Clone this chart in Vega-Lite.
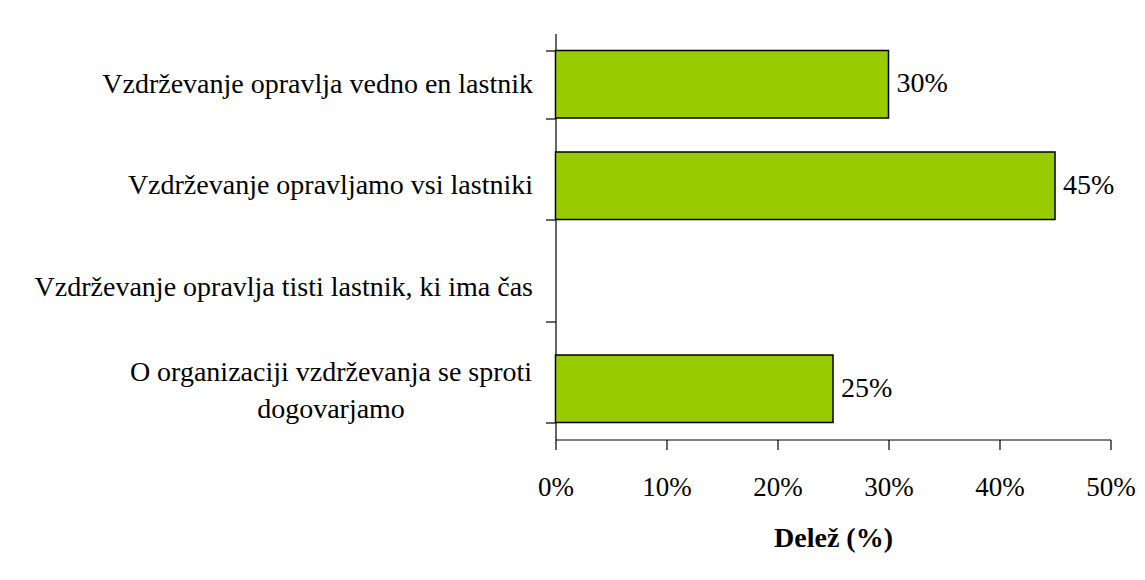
{
  "$schema": "https://vega.github.io/schema/vega-lite/v6.json",
  "width": 555,
  "height": 406,
  "autosize": "none",
  "padding": {"left": 555.5, "top": 33.5, "right": 34.5, "bottom": 140.5},
  "background": "white",
  "config": {
    "view": {"stroke": null},
    "font": "Times New Roman, Liberation Serif, serif",
    "text": {"font": "Times New Roman, Liberation Serif, serif"},
    "axis": {"domainColor": "black", "tickColor": "black", "labelColor": "black", "titleColor": "black", "grid": false, "domainWidth": 1.2, "tickWidth": 1.2, "labelFont": "Times New Roman, Liberation Serif, serif", "titleFont": "Times New Roman, Liberation Serif, serif"}
  },
  "data": {
    "values": [
      {"kategorija": "Vzdrževanje opravlja vedno en lastnik", "delez": 0.30},
      {"kategorija": "Vzdrževanje opravljamo vsi lastniki", "delez": 0.45},
      {"kategorija": "Vzdrževanje opravlja tisti lastnik, ki ima čas", "delez": null},
      {"kategorija": "O organizaciji vzdrževanja se sproti dogovarjamo", "delez": 0.25}
    ]
  },
  "encoding": {
    "y": {
      "field": "kategorija",
      "type": "nominal",
      "sort": null,
      "scale": {
        "domain": [
          "Vzdrževanje opravlja vedno en lastnik",
          "Vzdrževanje opravljamo vsi lastniki",
          "Vzdrževanje opravlja tisti lastnik, ki ima čas",
          "O organizaciji vzdrževanja se sproti dogovarjamo"
        ],
        "paddingInner": 0.333,
        "paddingOuter": 0.1665
      },
      "axis": {
        "title": null,
        "tickBand": "extent",
        "tickSize": 10,
        "labelFontSize": 28,
        "labelLimit": 0,
        "labelLineHeight": 37,
        "labelAlign": {"condition": {"test": "datum.value == 'O organizaciji vzdrževanja se sproti dogovarjamo'", "value": "center"}, "value": "right"},
        "labelPadding": {"condition": {"test": "datum.value == 'O organizaciji vzdrževanja se sproti dogovarjamo'", "value": 215}, "value": 13},
        "labelOffset": {"condition": {"test": "datum.value == 'O organizaciji vzdrževanja se sproti dogovarjamo'", "value": -16}, "value": 0},
        "labelExpr": "datum.value == 'O organizaciji vzdrževanja se sproti dogovarjamo' ? ['O organizaciji vzdrževanja se sproti', 'dogovarjamo'] : datum.value"
      }
    }
  },
  "layer": [
    {
      "mark": {"type": "bar", "color": "#99CC00", "stroke": "black", "strokeWidth": 1.5},
      "encoding": {
        "x": {
          "field": "delez",
          "type": "quantitative",
          "scale": {"domain": [0, 0.5], "nice": false},
          "axis": {
            "values": [0, 0.1, 0.2, 0.3, 0.4, 0.5],
            "format": ".0%",
            "tickSize": 10,
            "labelPadding": 25,
            "labelFontSize": 27,
            "labelFlush": false,
            "title": "Delež (%)",
            "titleFontSize": 28,
            "titleFontWeight": "bold",
            "titlePadding": 24
          }
        }
      }
    },
    {
      "mark": {"type": "text", "align": "left", "baseline": "middle", "dx": 8, "fontSize": 28, "color": "black"},
      "encoding": {
        "x": {"field": "delez", "type": "quantitative"},
        "text": {"field": "delez", "type": "quantitative", "format": ".0%"}
      }
    }
  ]
}
